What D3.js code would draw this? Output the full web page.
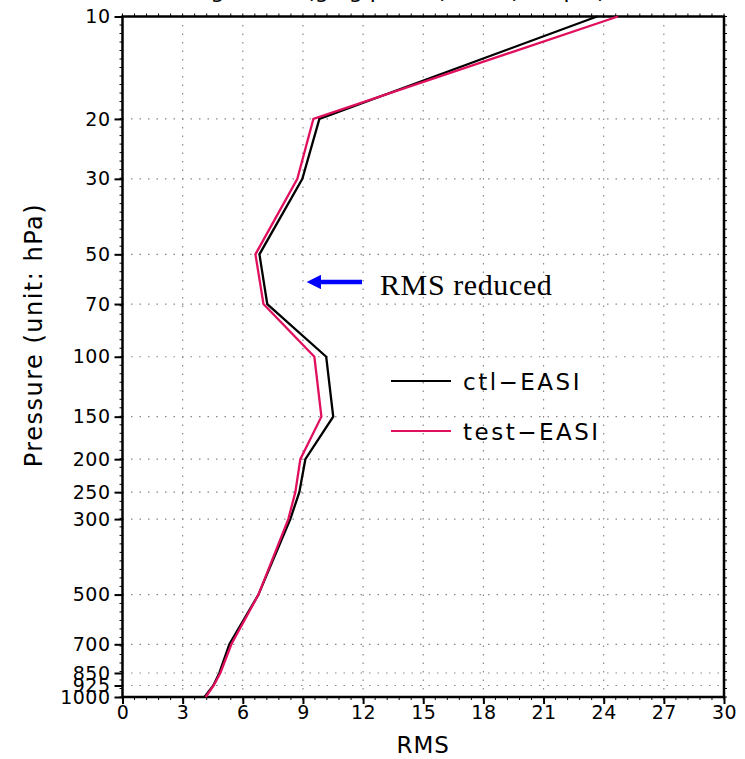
<!DOCTYPE html>
<html>
<head>
<meta charset="utf-8">
<script src="https://cdn.jsdelivr.net/npm/d3@7"></script>
<style>
  html, body { margin: 0; padding: 0; background: #fff; }
  svg { display: block; }
</style>
</head>
<body>
<svg id="chart" width="745" height="759"></svg>
<script>
// pressure levels (hPa) and RMS values
var levels = [1000, 925, 850, 700, 500, 300, 250, 200, 150, 100, 70, 50, 30, 20, 10];
var ctlRms = [4.09, 4.53, 4.83, 5.33, 6.78, 8.37, 8.82, 9.12, 10.51, 10.16, 7.22, 6.83, 8.97, 9.82, 23.67];
var testRms = [4.15, 4.55, 4.88, 5.43, 6.78, 8.27, 8.62, 8.87, 9.92, 9.57, 7.03, 6.63, 8.72, 9.52, 24.71];
var yTicks = [10, 20, 30, 50, 70, 100, 150, 200, 250, 300, 500, 700, 850, 925, 1000];
var xTicks = [0, 3, 6, 9, 12, 15, 18, 21, 24, 27, 30];
var seriesNames = ["ctl-EASI", "test-EASI"];
var seriesColors = ["#000000", "#e0105f"];

var svg = d3.select("#chart"),
    MARGINS = { top: 16.5, right: 21, bottom: 62, left: 122.5 },
    WIDTH = 745,
    HEIGHT = 759;

var xScale = d3.scaleLinear().domain([0, 30]).range([MARGINS.left, WIDTH - MARGINS.right]);
var yScale = d3.scaleLog().domain([10, 1000]).range([MARGINS.top, HEIGHT - MARGINS.bottom]);

var tickFont = "'DejaVu Sans', sans-serif";

// title (cut off by the top edge in the original)
svg.append("text")
    .attr("x", 390).attr("y", -2)
    .attr("text-anchor", "middle")
    .attr("font-family", tickFont)
    .attr("font-size", 22)
    .text("Height bias (g/kg profile) with (sample)");

// grid
var grid = svg.append("g").attr("stroke", "#888").attr("stroke-width", 1.2)
    .attr("stroke-dasharray", "1.5,7");
grid.selectAll("line.v").data(xTicks.slice(1, -1)).enter().append("line")
    .attr("x1", function (d) { return xScale(d); })
    .attr("x2", function (d) { return xScale(d); })
    .attr("y1", yScale(10)).attr("y2", yScale(1000));
grid.selectAll("line.h").data(yTicks.slice(1, -1)).enter().append("line")
    .attr("y1", function (d) { return yScale(d); })
    .attr("y2", function (d) { return yScale(d); })
    .attr("x1", xScale(0)).attr("x2", xScale(30));

// axes
var xAxis = d3.axisBottom(xScale).tickValues(xTicks).tickSize(7).tickPadding(2)
    .tickFormat(d3.format("d"));
var yAxis = d3.axisLeft(yScale).tickValues(yTicks).tickSize(8).tickPadding(4)
    .tickFormat(d3.format("d"));

var gx = svg.append("g")
    .attr("transform", "translate(0," + yScale(1000) + ")")
    .call(xAxis);
var gy = svg.append("g")
    .attr("transform", "translate(" + xScale(0) + ",0)")
    .call(yAxis);

[gx, gy].forEach(function (g) {
  g.select(".domain").remove();
  g.selectAll(".tick line").attr("stroke", "#000").attr("stroke-width", 2);
  g.selectAll(".tick text")
      .attr("font-family", tickFont)
      .attr("font-size", 19)
      .attr("letter-spacing", 0.5)
      .attr("fill", "#000");
});

// minor ticks along the frame
var minorX = d3.range(0, 30.01, 0.6);
var minorY = d3.range(0, 81).map(function (i) { return Math.pow(10, 1 + i / 40); });
var minor = svg.append("g").attr("stroke", "#000").attr("stroke-width", 1);
minor.selectAll("line.bx").data(minorX).enter().append("line")
    .attr("x1", function (d) { return xScale(d); }).attr("x2", function (d) { return xScale(d); })
    .attr("y1", yScale(1000)).attr("y2", yScale(1000) + 3);
minor.selectAll("line.tx").data(minorX).enter().append("line")
    .attr("x1", function (d) { return xScale(d); }).attr("x2", function (d) { return xScale(d); })
    .attr("y1", yScale(10)).attr("y2", yScale(10) - 3);
minor.selectAll("line.ly").data(minorY).enter().append("line")
    .attr("y1", function (d) { return yScale(d); }).attr("y2", function (d) { return yScale(d); })
    .attr("x1", xScale(0)).attr("x2", xScale(0) - 3);
minor.selectAll("line.ry").data(minorY).enter().append("line")
    .attr("y1", function (d) { return yScale(d); }).attr("y2", function (d) { return yScale(d); })
    .attr("x1", xScale(30)).attr("x2", xScale(30) + 3);

// frame
svg.append("rect")
    .attr("x", xScale(0)).attr("y", yScale(10))
    .attr("width", xScale(30) - xScale(0))
    .attr("height", yScale(1000) - yScale(10))
    .attr("fill", "none").attr("stroke", "#000").attr("stroke-width", 2.5);

// profiles
var lineGen = d3.line()
    .x(function (d) { return xScale(d[0]); })
    .y(function (d) { return yScale(d[1]); });

[ctlRms, testRms].forEach(function (vals, i) {
  svg.append("path")
      .attr("d", lineGen(vals.map(function (v, k) { return [v, levels[k]]; })))
      .attr("fill", "none")
      .attr("stroke", seriesColors[i])
      .attr("stroke-width", 2.3)
      .attr("stroke-linejoin", "miter");
});

// legend
var legend = svg.append("g");
seriesNames.forEach(function (name, i) {
  var y = 381 + i * 50;
  legend.append("line")
      .attr("x1", 391).attr("x2", 451).attr("y1", y).attr("y2", y)
      .attr("stroke", seriesColors[i]).attr("stroke-width", 2);
  legend.append("text")
      .attr("x", 463).attr("y", y + 9)
      .attr("font-family", tickFont)
      .attr("font-size", 23)
      .attr("letter-spacing", 2.5)
      .text(name.replace("-", "\u2212"));
});

// annotation arrow
svg.append("defs").append("marker")
    .attr("id", "head")
    .attr("viewBox", "0 0 10 10")
    .attr("refX", 0).attr("refY", 5)
    .attr("markerWidth", 3.6).attr("markerHeight", 3.2)
    .attr("markerUnits", "strokeWidth")
    .attr("orient", "auto")
    .append("path").attr("d", "M0,0 L10,5 L0,10 Z").attr("fill", "#0000ff");
svg.append("line")
    .attr("x1", 362).attr("y1", 282).attr("x2", 321).attr("y2", 282)
    .attr("stroke", "#0000ff").attr("stroke-width", 4.5)
    .attr("marker-end", "url(#head)");
svg.append("text")
    .attr("x", 380).attr("y", 295)
    .attr("font-family", "'Liberation Serif', 'Times New Roman', serif")
    .attr("font-size", 30)
    .attr("letter-spacing", 0.6)
    .text("RMS reduced");

// axis titles
svg.append("text")
    .attr("x", (xScale(0) + xScale(30)) / 2).attr("y", 753)
    .attr("text-anchor", "middle")
    .attr("font-family", tickFont)
    .attr("font-size", 23)
    .attr("letter-spacing", 1)
    .text("RMS");
svg.append("text")
    .attr("transform", "translate(42,335) rotate(-90)")
    .attr("text-anchor", "middle")
    .attr("font-family", tickFont)
    .attr("font-size", 24)
    .attr("letter-spacing", 1.5)
    .text("Pressure (unit: hPa)");
</script>
</body>
</html>
